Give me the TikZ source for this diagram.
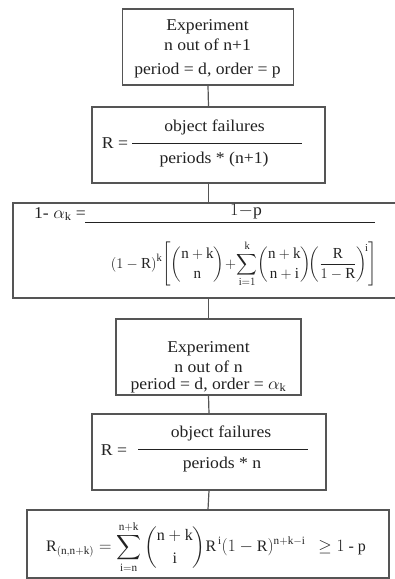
\documentclass[tikz,border=0pt]{standalone}
\usepackage{amsmath}
\usepackage{fontspec}
\setmainfont{Liberation Serif}
\newcommand{\rr}[1]{\mathrm{#1}}
\definecolor{boxgray}{HTML}{555555}
\definecolor{txtgray}{HTML}{222222}
\begin{document}
\begin{tikzpicture}[x=1pt,y=-1pt,
  box/.style={draw=boxgray, line width=1.2pt, inner sep=0pt, rectangle},
  conn/.style={draw=boxgray, line width=1.2pt},
  bar/.style={draw=txtgray, line width=0.8pt},
  txt/.style={inner sep=0pt, anchor=base, text=txtgray, font=\fontsize{16.5}{19}\selectfont, xscale=1.07, transform shape},
  mth/.style={inner sep=0pt, text=txtgray, font=\fontsize{15}{18}\selectfont}]
\useasboundingbox (0,0) rectangle (395,579);
\fill[white] (0,0) rectangle (395,579);

% boxes
\node[box, minimum width=171pt, minimum height=76pt] (b1) at (208,47) {};
\node[box, minimum width=233pt, minimum height=76pt] (b2) at (208.5,145) {};
\node[box, minimum width=400pt, minimum height=95pt] (b3) at (213,250.5) {};
\node[box, minimum width=185pt, minimum height=76pt] (b4) at (208.5,357) {};
\node[box, minimum width=234pt, minimum height=76pt] (b5) at (209,452) {};
\node[box, minimum width=362pt, minimum height=68pt] (b6) at (208,544) {};

% connectors
\draw[conn] (b1.south) -- (b2.north);
\draw[conn] (b2.south) -- (b2.south |- b3.north);
\draw[conn] (b4.north |- b3.south) -- (b4.north);
\draw[conn] (b4.south) -- (b5.north);
\draw[conn] (b5.south) -- (b6.north);

% box 1
\node[txt] (t1a) at (207.5,30) {Experiment};
\node[txt] (t1b) at (207.5,50) {n out of n+1};
\node[txt] (t1c) at (207.5,74) {period = d, order = p};

% box 2
\node[txt] (r2) at (115,148) {R =};
\draw[bar] (132,143) -- (302,143);
\node[txt] (n2) at (214.5,131) {object failures};
\node[txt] (d2) at (214,163) {periods * (n+1)};

% box 3
\node[txt] (l3) at (60,218) {1- $\alpha_{\rr{k}}$ =};
\draw[bar] (85,222) -- (375,222);
\node[txt] (n3) at (246,215) {$1{-}\rr{p}$};
\node[mth] (d3) at (244,264) {\scalebox{1.0}[1.02]{$\displaystyle (1-\rr{R})^{\rr{k}}\!\left[\binom{\rr{n}+\rr{k}}{\rr{n}}\!+\!\sum_{\rr{i}=1}^{\rr{k}}\!\binom{\rr{n}+\rr{k}}{\rr{n}+\rr{i}}\!\!\left(\frac{\rr{R}}{1-\rr{R}}\right)^{\!\rr{i}}\right]$}};

% box 4
\node[txt] (t4a) at (208.5,352) {Experiment};
\node[txt] (t4b) at (208.5,372) {n out of n};
\node[txt] (t4c) at (208.5,389) {period = d, order = $\alpha_{\rr{k}}$};

% box 5
\node[txt] (r5) at (114,455) {R =};
\draw[bar] (138,449) -- (308,449);
\node[txt] (n5) at (221,437) {object failures};
\node[txt] (d5) at (222,468) {periods * n};

% box 6
\node[mth, font=\fontsize{16}{19}\selectfont] (f6) at (206,547) {$\displaystyle \rr{R}_{(\rr{n},\rr{n}+\rr{k})}=\sum_{\rr{i}=\rr{n}}^{\rr{n}+\rr{k}}\binom{\rr{n}+\rr{k}}{\rr{i}}\rr{R}^{\,\rr{i}}(1-\rr{R})^{\rr{n}+\rr{k}-\rr{i}}\ \ \geq 1\ \text{-}\ \rr{p}$};
\end{tikzpicture}
\end{document}
